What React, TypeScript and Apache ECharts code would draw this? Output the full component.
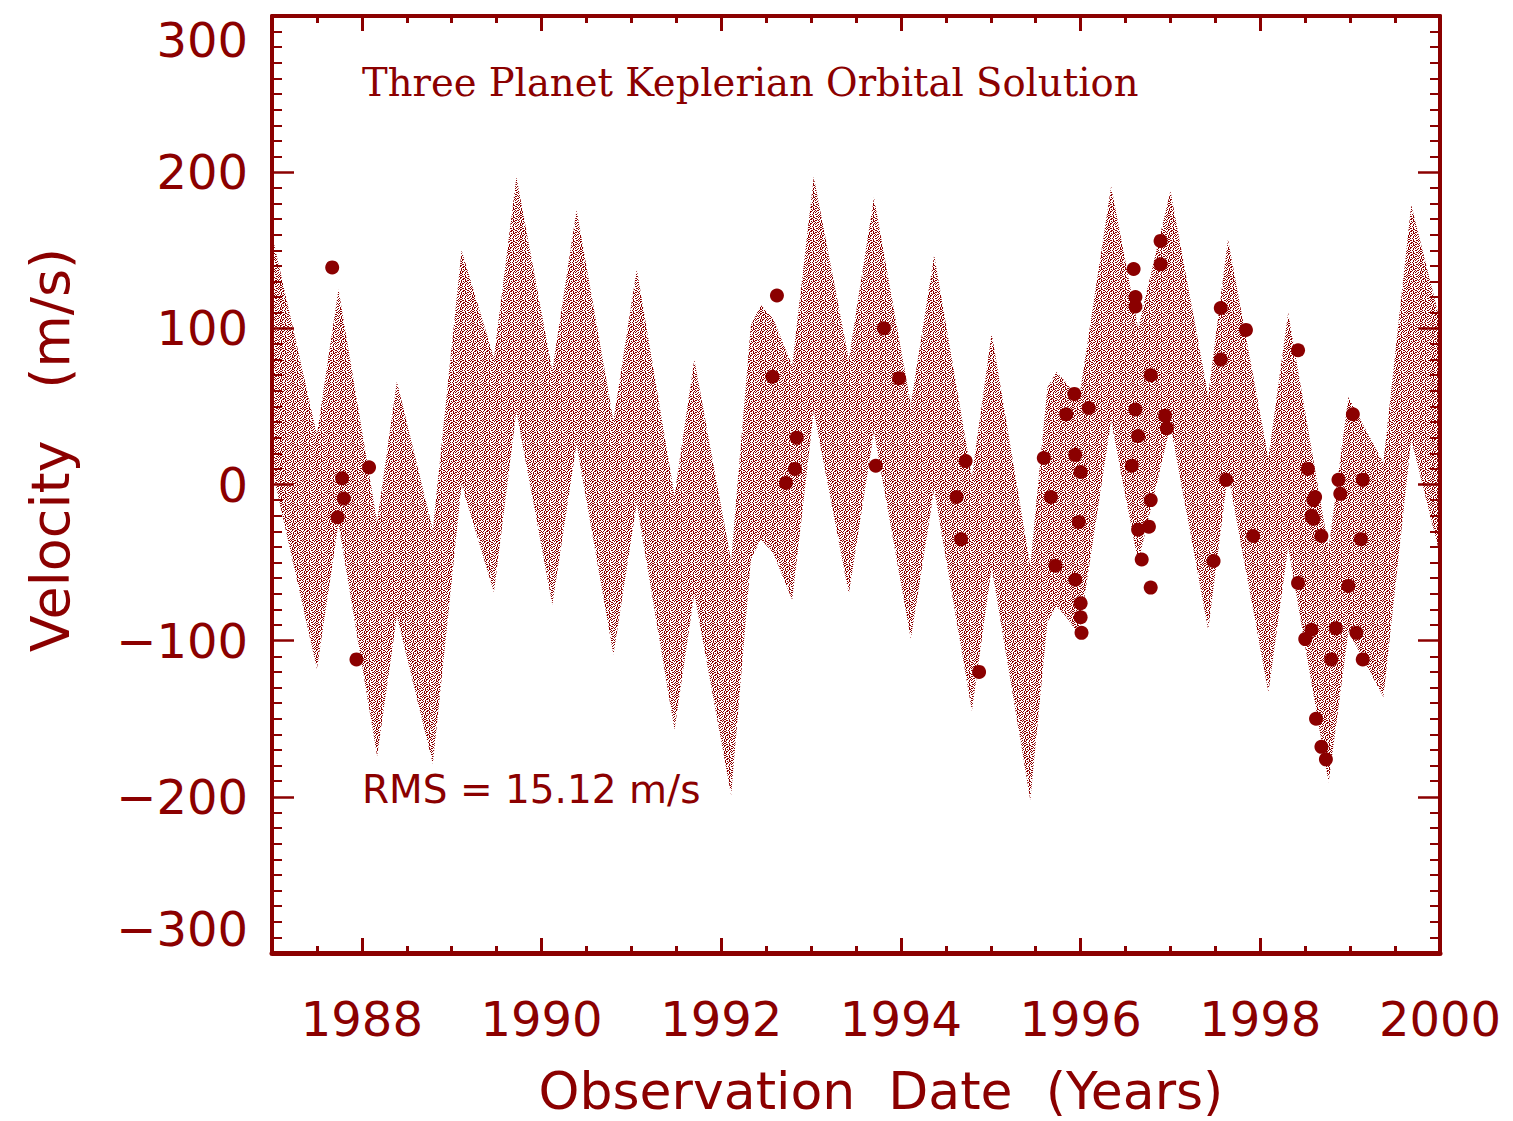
import React, { useEffect, useRef } from "react";
import * as echarts from "echarts";

const RED = "#8b0000";

// Model band (3-planet Keplerian solution): upper & lower envelope
const modelYears = [1987.0, 1987.5, 1987.74, 1988.17, 1988.39, 1988.79, 1989.11, 1989.47, 1989.72, 1990.12, 1990.39, 1990.8, 1991.06, 1991.48, 1991.7, 1992.11, 1992.33, 1992.44, 1992.58, 1992.79, 1993.03, 1993.42, 1993.7, 1994.11, 1994.37, 1994.79, 1995.01, 1995.44, 1995.63, 1995.73, 1995.83, 1995.98, 1996.34, 1996.64, 1997.0, 1997.42, 1997.64, 1998.09, 1998.31, 1998.76, 1998.98, 1999.37, 1999.68, 2000.0];
const modelUpper = [160, 32, 125, -24, 66, -29, 150, 81, 197, 73, 176, 41, 138, -7, 80, -49, 102, 115, 106, 76, 197, 80, 184, 51, 147, 5, 97, -52, 62, 72, 66, 54, 191, 100, 188, 57, 157, 17, 110, -41, 56, 14, 179, 105];
const modelLower = [10, -118, -25, -174, -84, -179, 0, -69, 47, -77, 26, -109, -12, -157, -70, -199, -48, -35, -44, -74, 47, -70, 34, -99, -3, -145, -53, -202, -88, -78, -84, -96, 41, -50, 38, -93, 7, -133, -40, -191, -94, -136, 29, -45];

// Observed velocities
const obsYears = [1987.67, 1987.78, 1987.8, 1987.73, 1988.08, 1987.94, 1992.62, 1992.57, 1992.84, 1992.82, 1992.72, 1993.81, 1993.98, 1993.72, 1994.72, 1994.62, 1994.67, 1994.87, 1995.59, 1995.93, 1996.09, 1995.84, 1995.94, 1996.0, 1995.67, 1995.98, 1995.72, 1995.94, 1996.0, 1996.0, 1996.01, 1996.89, 1996.89, 1996.59, 1996.61, 1996.61, 1996.78, 1996.61, 1996.94, 1996.96, 1996.64, 1996.57, 1996.78, 1996.64, 1996.76, 1996.68, 1996.78, 1997.56, 1997.84, 1997.56, 1998.42, 1997.62, 1997.48, 1997.92, 1998.53, 1998.59, 1998.59, 1999.03, 1998.87, 1999.14, 1998.61, 1998.89, 1998.57, 1998.68, 1999.12, 1998.42, 1998.98, 1998.57, 1998.5, 1998.84, 1999.07, 1998.79, 1999.14, 1998.62, 1998.68, 1998.73];
const obsVelocity = [139, 4, -9, -21, 11, -112, 121, 69, 30, 10, 1, 100, 68, 12, 15, -8, -35, -120, 17, 58, 49, 45, 19, 8, -8, -24, -52, -61, -76, -85, -95, 156, 141, 138, 120, 114, 70, 48, 44, 36, 31, 12, -10, -29, -27, -48, -66, 113, 99, 80, 86, 3, -49, -33, 10, -10, -22, 45, 3, 3, -8, -6, -20, -33, -35, -63, -65, -93, -99, -92, -95, -112, -112, -150, -168, -176];

const xMajorTicks = [1988, 1990, 1992, 1994, 1996, 1998, 2000];
const xMinorTicks = [1987.5, 1988.5, 1989, 1989.5, 1990.5, 1991, 1991.5, 1992.5, 1993, 1993.5, 1994.5, 1995, 1995.5, 1996.5, 1997, 1997.5, 1998.5, 1999, 1999.5];

const TILE = [
  "##.#..##.#..",
  "..#.##...##.",
  "#...#..##..#",
  ".#.#..##.#..",
  "#.#..#...#.#",
  "...#.#.#.##.",
  ".##..#..#..#",
  "#...#.##..#.",
  "..#.#.#..#.#",
  ".#..##...#..",
  "#..#..#.#..#",
  "..#.##...#..",
];

function makePattern() {
  const n = TILE.length;
  const c = document.createElement("canvas");
  c.width = n;
  c.height = n;
  const ctx = c.getContext("2d")!;
  ctx.fillStyle = RED;
  TILE.forEach((row, y) => {
    for (let x = 0; x < row.length; x++) if (row[x] === "#") ctx.fillRect(x, y, 1, 1);
  });
  return { type: "pattern", image: c, repeat: "repeat", imageWidth: n, imageHeight: n } as any;
}

export default function App() {
  const ref = useRef<HTMLDivElement>(null);
  useEffect(() => {
    if (!ref.current) return;
    const chart = echarts.init(ref.current, null, { renderer: "svg" });
    const pattern = makePattern();
    const tickFont = { fontFamily: "DejaVu Sans", fontSize: 48, color: RED };
    const baseX = { type: "value", min: 1987, max: 2000, splitLine: { show: false } };
    const opt: any = {
      animation: false,
      backgroundColor: "#ffffff",
      grid: { left: 272, top: 16, right: 73, bottom: 168, containLabel: false },
      xAxis: [
        {
          ...baseX,
          position: "bottom",
          axisLine: { show: true, onZero: false, lineStyle: { color: RED, width: 5 } },
          axisTick: { show: true, inside: true, length: 15, lineStyle: { color: RED, width: 3 }, customValues: xMajorTicks },
          axisLabel: { show: true, ...tickFont, margin: 42, customValues: xMajorTicks, formatter: (v: number) => String(v) },
        },
        {
          ...baseX,
          position: "bottom",
          axisLine: { show: false, onZero: false },
          axisTick: { show: true, inside: true, length: 7, lineStyle: { color: RED, width: 3 }, customValues: xMinorTicks },
          axisLabel: { show: false },
        },
        {
          ...baseX,
          position: "top",
          axisLine: { show: true, onZero: false, lineStyle: { color: RED, width: 4 } },
          axisTick: { show: true, inside: true, length: 15, lineStyle: { color: RED, width: 3 }, customValues: xMajorTicks },
          axisLabel: { show: false },
        },
        {
          ...baseX,
          position: "top",
          axisLine: { show: false, onZero: false },
          axisTick: { show: true, inside: true, length: 7, lineStyle: { color: RED, width: 3 }, customValues: xMinorTicks },
          axisLabel: { show: false },
        },
      ],
      yAxis: [
        {
          type: "value",
          min: -300,
          max: 300,
          interval: 100,
          position: "left",
          splitLine: { show: false },
          axisLine: { show: true, onZero: false, lineStyle: { color: RED, width: 4 } },
          axisTick: { show: true, inside: true, length: 22, lineStyle: { color: RED, width: 2.5 } },
          minorTick: { show: true, splitNumber: 10, length: 10, lineStyle: { color: RED, width: 2 } },
          axisLabel: {
            show: true,
            ...tickFont,
            margin: 24,
            verticalAlignMaxLabel: "top",
            verticalAlignMinLabel: "bottom",
            formatter: (v: number) => (v < 0 ? "\u2212" + Math.abs(v) : String(v)),
          },
        },
        {
          type: "value",
          min: -300,
          max: 300,
          interval: 100,
          position: "right",
          splitLine: { show: false },
          axisLine: { show: true, onZero: false, lineStyle: { color: RED, width: 4 } },
          axisTick: { show: true, inside: true, length: 22, lineStyle: { color: RED, width: 2.5 } },
          minorTick: { show: true, splitNumber: 10, length: 10, lineStyle: { color: RED, width: 2 } },
          axisLabel: { show: false },
        },
      ],
      series: [
        {
          type: "custom",
          xAxisIndex: 0,
          yAxisIndex: 0,
          clip: true,
          data: [[1987, 0]],
          renderItem: (_params: any, api: any) => {
            const pts: number[][] = [];
            for (let i = 0; i < modelYears.length; i++) pts.push(api.coord([modelYears[i], modelUpper[i]]));
            for (let i = modelYears.length - 1; i >= 0; i--) pts.push(api.coord([modelYears[i], modelLower[i]]));
            return { type: "polygon", shape: { points: pts }, style: { fill: pattern, stroke: "none" } };
          },
          z: 1,
        },
        {
          type: "scatter",
          xAxisIndex: 0,
          yAxisIndex: 0,
          data: obsYears.map((t, i) => [t, obsVelocity[i]]),
          symbol: "circle",
          symbolSize: 14,
          itemStyle: { color: RED, opacity: 1 },
          z: 3,
        },
      ],
      graphic: [
        {
          type: "text",
          x: 362,
          y: 82,
          style: { text: "Three Planet Keplerian Orbital Solution", fill: RED, font: '38.5px "DejaVu Serif"', align: "left", verticalAlign: "middle" },
        },
        {
          type: "text",
          x: 362,
          y: 789,
          style: { text: "RMS = 15.12 m/s", fill: RED, font: '39px "DejaVu Sans"', align: "left", verticalAlign: "middle" },
        },
        {
          type: "text",
          x: 881,
          y: 1091,
          style: { text: "Observation  Date  (Years)", fill: RED, font: '52px "DejaVu Sans"', align: "center", verticalAlign: "middle" },
        },
        {
          type: "text",
          x: 50,
          y: 450,
          rotation: Math.PI / 2,
          style: { text: "Velocity   (m/s)", fill: RED, font: '54px "DejaVu Sans"', align: "center", verticalAlign: "middle" },
        },
      ],
    };
    chart.setOption(opt);
    return () => chart.dispose();
  }, []);
  return <div ref={ref} style={{ position: "fixed", left: 0, top: 0, width: 1513, height: 1121, background: "#fff" }} />;
}
